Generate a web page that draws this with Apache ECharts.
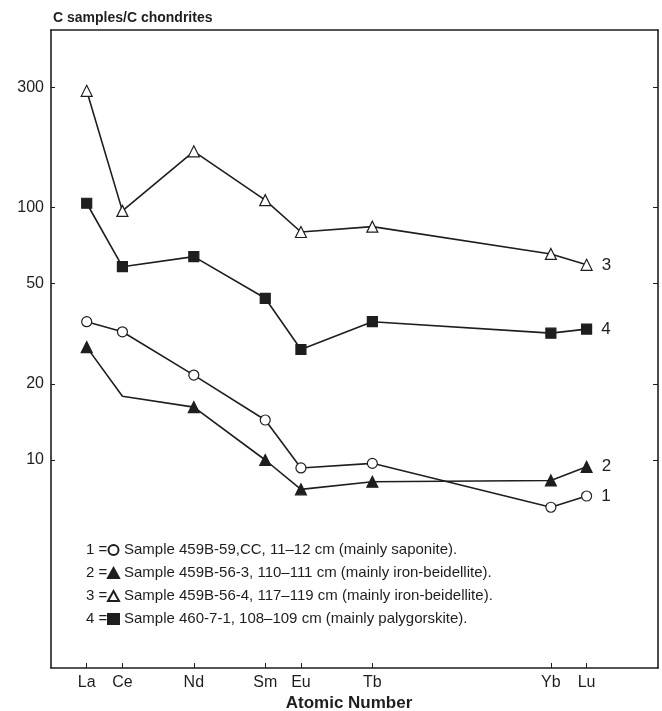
<!DOCTYPE html>
<html>
<head>
<meta charset="utf-8">
<script src="https://cdn.jsdelivr.net/npm/echarts@6/dist/echarts.min.js"></script>
<style>
  html, body { margin: 0; padding: 0; background: #fff; }
  #chart { width: 662px; height: 711px; }
</style>
</head>
<body>
<div id="chart"></div>
<script>
// atomic numbers of the rare earths on the x axis
var elements = ['La', 'Ce', 'Nd', 'Sm', 'Eu', 'Tb', 'Yb', 'Lu'];
var atomicNumbers = [57, 58, 60, 62, 63, 65, 70, 71];
var yTicks = [10, 20, 50, 100, 300];

// C samples / C chondrites
var sample1 = [35.3, 32.2, 21.7, 14.4, 9.3, 9.7, 6.5, 7.2];
var sample2 = [28, 17.9, 16.2, 10, 7.65, 8.2, 8.3, 9.4];
var sample3 = [290, 97, 167, 107, 80, 84, 65.5, 59.3];
var sample4 = [104, 58.3, 63.9, 43.7, 27.4, 35.3, 31.8, 33];

var legendNames = [
    'Sample 459B-59,CC, 11\u201312 cm (mainly saponite).',
    'Sample 459B-56-3, 110\u2013111 cm (mainly iron-beidellite).',
    'Sample 459B-56-4, 117\u2013119 cm (mainly iron-beidellite).',
    'Sample 460-7-1, 108\u2013109 cm (mainly palygorskite).'
];

var ink = '#1e1e1e';
var font = '"Liberation Sans", Arial, sans-serif';

function makeData(values, endLabel, noMarkerIdx) {
    return values.map(function (v, i) {
        var item = { value: [atomicNumbers[i], v] };
        if (noMarkerIdx !== undefined && noMarkerIdx.indexOf(i) >= 0) {
            item.symbol = 'none';
        }
        if (i === values.length - 1) {
            item.label = {
                show: true, position: 'right', distance: 9,
                formatter: endLabel, fontSize: 17, color: ink, fontFamily: font
            };
        }
        return item;
    });
}

function lineSeries(name, values, symbol, filled, endLabel, noMarker) {
    return {
        name: name,
        type: 'line',
        data: makeData(values, endLabel, noMarker),
        symbol: symbol,
        symbolSize: symbol === 'rect' ? 10 : (symbol === 'triangle' ? 11 : 10),
        showAllSymbol: true,
        lineStyle: { color: ink, width: 1.6 },
        itemStyle: { color: filled ? ink : '#fff', borderColor: ink, borderWidth: 1.2 },
        z: 3
    };
}

var chart = echarts.init(document.getElementById('chart'));

var option = {
    animation: false,
    backgroundColor: '#fff',
    textStyle: { fontFamily: font },
    grid: { left: 51, right: 4, top: 30, bottom: 43 },
    title: {
        text: 'C samples/C chondrites',
        left: 48, top: 6,
        textStyle: { fontSize: 14, fontWeight: 'bold', color: ink, fontFamily: font }
    },
    legend: {
        orient: 'vertical',
        left: 102, top: 536,
        itemWidth: 11, itemHeight: 10, itemGap: 5,
        selectedMode: false,
        textStyle: { fontSize: 15, color: ink, lineHeight: 18, fontFamily: font },
        data: [
            { name: legendNames[0], icon: 'circle' },
            { name: legendNames[1], icon: 'triangle' },
            { name: legendNames[2], icon: 'triangle' },
            { name: legendNames[3], icon: 'rect' }
        ]
    },
    graphic: [1, 2, 3, 4].map(function (n, i) {
        return {
            type: 'text', x: 86, y: 550 + i * 23,
            style: { text: n + ' =', fill: ink, font: '15px ' + font, verticalAlign: 'middle' }
        };
    }).concat([{
        type: 'text', x: 349, y: 703,
        style: { text: 'Atomic Number', fill: ink, font: 'bold 17px ' + font, align: 'center', verticalAlign: 'middle' }
    }]),
    xAxis: [{
        type: 'value',
        min: 56, max: 73,
        position: 'bottom',
        axisLine: { show: true, lineStyle: { color: ink, width: 1.6 } },
        axisTick: { show: true, inside: true, length: 5, customValues: atomicNumbers, lineStyle: { color: ink } },
        axisLabel: {
            customValues: atomicNumbers,
            formatter: function (v) { return elements[atomicNumbers.indexOf(v)] || ''; },
            fontSize: 16, color: ink, margin: 7, fontFamily: font
        },
        splitLine: { show: false }
    }, {
        type: 'value',
        min: 56, max: 73,
        position: 'top',
        axisLine: { show: true, onZero: false, lineStyle: { color: ink, width: 1.6 } },
        axisTick: { show: false },
        axisLabel: { show: false },
        splitLine: { show: false }
    }],
    yAxis: [{
        type: 'log',
        min: 1.5, max: 505,
        position: 'left',
        axisLine: { show: true, lineStyle: { color: ink, width: 1.6 } },
        axisTick: { show: true, inside: true, length: 4, customValues: yTicks, lineStyle: { color: ink } },
        axisLabel: { customValues: yTicks, fontSize: 16, color: ink, margin: 7, fontFamily: font },
        splitLine: { show: false },
        minorTick: { show: false }
    }, {
        type: 'log',
        min: 1.5, max: 505,
        position: 'right',
        axisLine: { show: true, onZero: false, lineStyle: { color: ink, width: 1.6 } },
        axisTick: { show: true, inside: true, length: 5, customValues: yTicks, lineStyle: { color: ink } },
        axisLabel: { show: false },
        splitLine: { show: false }
    }],
    series: [
        lineSeries(legendNames[0], sample1, 'circle', false, '1'),
        lineSeries(legendNames[1], sample2, 'triangle', true, '2', [1]),
        lineSeries(legendNames[2], sample3, 'triangle', false, '3'),
        lineSeries(legendNames[3], sample4, 'rect', true, '4')
    ]
};

chart.setOption(option);
</script>
</body>
</html>
